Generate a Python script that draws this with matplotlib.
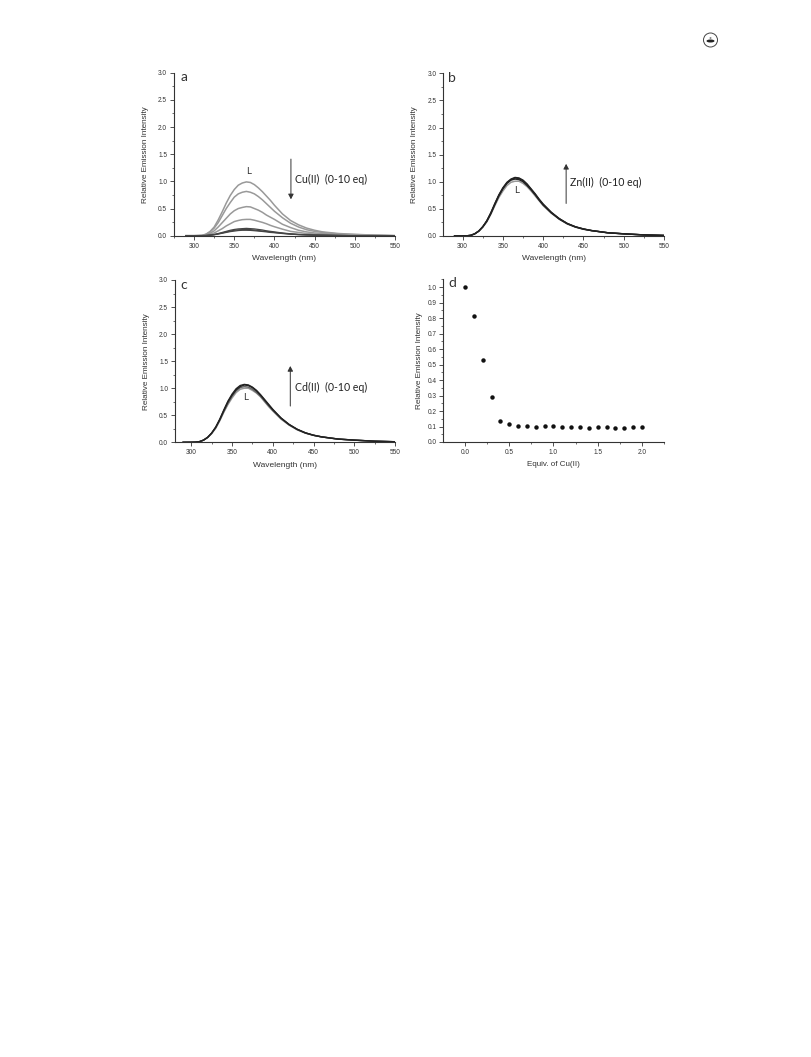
#!/usr/bin/env python3
"""Emission titration panels a-d, redrawn from the printed page."""

import matplotlib
matplotlib.use("Agg")
import matplotlib.pyplot as plt
from matplotlib.patches import Ellipse
from matplotlib.ticker import MultipleLocator

plt.rcParams["font.family"] = ["Liberation Sans", "DejaVu Sans"]

W, H = 812, 1057

# ---------------------------------------------------------------------------
# Data
# ---------------------------------------------------------------------------

wl = [290, 300, 305, 310, 315, 320, 325, 330, 335, 340, 345, 350, 355, 360, 365,
      370, 375, 380, 385, 390, 395, 400, 410, 420, 430, 440, 450, 460, 480, 500, 525, 550]

# panel a: Cu(II), grey curves from the top one (L) downwards
cu_0 = [0, 0, .002, .006, .03, .08, .16, .29, .44, .60, .74, .85, .93, .97, .99,
        .98, .94, .88, .81, .73, .65, .56, .40, .28, .20, .14, .10, .07, .04, .025, .01, 0]
cu_1 = [0, 0, .002, .005, .025, .07, .14, .24, .37, .50, .61, .71, .77, .80, .815,
        .80, .77, .72, .66, .59, .52, .45, .33, .23, .16, .11, .08, .06, .03, .02, .01, 0]
cu_2 = [0, 0, .001, .004, .018, .045, .09, .16, .24, .32, .40, .46, .50, .52, .535,
        .53, .50, .47, .43, .38, .34, .30, .21, .15, .10, .07, .05, .04, .02, .01, .005, 0]
cu_3 = [0, 0, .001, .002, .010, .025, .05, .09, .13, .18, .22, .26, .28, .295, .30,
        .30, .285, .265, .245, .22, .19, .165, .12, .08, .06, .04, .03, .02, .01, .005, 0, 0]
cu_4 = [0, 0, 0, .001, .004, .011, .022, .04, .06, .08, .10, .115, .125, .13, .135,
        .13, .125, .115, .105, .09, .08, .07, .05, .035, .025, .018, .012, .01, .005, 0, 0, 0]
cu_5 = [0, 0, 0, .001, .004, .010, .020, .035, .05, .07, .085, .10, .108, .112, .115,
        .112, .105, .095, .085, .08, .07, .06, .045, .03, .02, .015, .01, .008, .004, 0, 0, 0]
cu_6 = [0, 0, 0, .001, .003, .009, .017, .03, .045, .06, .075, .085, .095, .10, .10,
        .098, .092, .085, .078, .07, .06, .055, .04, .028, .02, .014, .01, .007, .003, 0, 0, 0]

# panel b: Zn(II), L at the bottom of the bundle
zn_0 = [0, .001, .003, .012, .04, .09, .16, .26, .40, .56, .71, .83, .93, .99, 1.01,
        1.01, .97, .91, .83, .74, .65, .56, .42, .31, .22, .165, .125, .10, .06, .04, .02, .01]
zn_1 = [0, .001, .003, .012, .04, .09, .17, .27, .41, .58, .74, .87, .97, 1.03, 1.05,
        1.04, 1.00, .93, .85, .76, .66, .57, .43, .31, .225, .165, .125, .10, .06, .04, .02, .01]
zn_2 = [0, .001, .003, .012, .04, .09, .17, .28, .42, .59, .75, .88, .98, 1.04, 1.07,
        1.06, 1.02, .95, .86, .77, .67, .58, .43, .32, .23, .17, .13, .10, .06, .04, .02, .01]
zn_3 = [0, .001, .003, .012, .04, .09, .17, .28, .43, .60, .76, .89, .99, 1.05, 1.08,
        1.07, 1.03, .96, .87, .78, .68, .59, .44, .32, .23, .17, .13, .10, .06, .04, .02, .01]

# panel c: Cd(II)
cd_0 = [0, .001, .003, .012, .04, .09, .16, .26, .40, .56, .70, .82, .92, .98, 1.00,
        1.00, .96, .91, .84, .75, .66, .58, .43, .32, .23, .17, .13, .10, .06, .04, .02, .01]
cd_1 = [0, .001, .003, .012, .04, .09, .17, .27, .41, .57, .72, .85, .95, 1.01, 1.03,
        1.02, .98, .92, .85, .76, .67, .59, .44, .32, .235, .17, .13, .10, .06, .04, .02, .01]
cd_2 = [0, .001, .003, .012, .04, .09, .17, .28, .42, .59, .75, .87, .97, 1.03, 1.06,
        1.05, 1.01, .95, .87, .78, .69, .60, .45, .33, .24, .175, .13, .10, .06, .04, .02, .01]
cd_3 = [0, .001, .003, .012, .04, .09, .17, .28, .43, .60, .76, .89, .99, 1.05, 1.07,
        1.06, 1.02, .96, .88, .79, .70, .61, .45, .33, .24, .175, .13, .10, .06, .04, .02, .01]

# panel d: quenching by Cu(II)
equiv = [0.0, 0.1, 0.2, 0.3, 0.4, 0.5, 0.6, 0.7, 0.8, 0.9, 1.0,
         1.1, 1.2, 1.3, 1.4, 1.5, 1.6, 1.7, 1.8, 1.9, 2.0]
rel_int = [1.0, 0.81, 0.53, 0.29, 0.135, 0.113, 0.102, 0.105, 0.097, 0.102, 0.102,
           0.098, 0.097, 0.10, 0.092, 0.096, 0.095, 0.09, 0.092, 0.095, 0.095]


# ---------------------------------------------------------------------------
# Helpers
# ---------------------------------------------------------------------------

def make_axes(fig, left, right, top, bottom):
    # box given in page pixels, y counted from the top
    ax = fig.add_axes([left / W, 1 - bottom / H, (right - left) / W, (bottom - top) / H])
    ax.spines["top"].set_visible(False)
    ax.spines["right"].set_visible(False)
    for side in ("left", "bottom"):
        ax.spines[side].set_linewidth(0.8)
        ax.spines[side].set_color("#333333")
    ax.tick_params(which="major", length=3, width=0.6, labelsize=4.7, pad=2,
                   color="#333333", labelcolor="#333333")
    ax.tick_params(which="minor", length=1.7, width=0.5, color="#333333")
    ax.patch.set_alpha(0)
    return ax


def spectrum_axes(fig, box, xmin, xlabel_y):
    ax = make_axes(fig, *box)
    ax.set_xlim(xmin, 550)
    ax.set_ylim(0, 3.0)
    ax.xaxis.set_major_locator(MultipleLocator(50))
    ax.xaxis.set_minor_locator(MultipleLocator(25))
    ax.yaxis.set_major_locator(MultipleLocator(0.5))
    ax.yaxis.set_minor_locator(MultipleLocator(0.25))
    ax.set_xlabel("Wavelength (nm)", fontsize=6, color="#333333")
    ax.set_ylabel("Relative Emission Intensity", fontsize=5.9, color="#333333")
    ax.xaxis.set_label_coords(0.5, xlabel_y)
    ax.yaxis.set_label_coords(-0.113, 0.5)
    return ax


def note(ax, letter, letter_xy, label, label_xy, arrow_x, arrow_from, arrow_to, l_xy):
    ax.text(*letter_xy, letter, family="Lato", fontsize=10, color="#333333", ha="left", va="center")
    ax.text(*label_xy, label, family="Lato", fontsize=7.6, color="#222222", ha="left", va="center")
    ax.text(*l_xy, "L", family="Lato", fontsize=7, color="#333333", ha="center", va="center")
    ax.annotate("", xy=(arrow_x, arrow_to), xytext=(arrow_x, arrow_from),
                arrowprops=dict(arrowstyle="-|>,head_width=0.16,head_length=0.3",
                                lw=0.7, color="#333333", shrinkA=0, shrinkB=0))


# ---------------------------------------------------------------------------
# Figure
# ---------------------------------------------------------------------------

def main():
    fig = plt.figure(figsize=(W / 100, H / 100), dpi=100)

    # a
    ax = spectrum_axes(fig, (174, 395, 72.7, 235.7), 275, -0.116)
    for curve in (cu_0, cu_1, cu_2, cu_3):
        ax.plot(wl, curve, color="#999999", lw=1.1)
    for curve in (cu_4, cu_5, cu_6):
        ax.plot(wl, curve, color="#444444", lw=0.9)
    note(ax, "a", (283, 2.92), "Cu(II)  (0-10 eq)", (425, 1.04), 420.5, 1.41, 0.67, (368, 1.18))

    # b
    ax = spectrum_axes(fig, (443.3, 664, 73.3, 236), 276, -0.116)
    ax.plot(wl, zn_0, color="#999999", lw=1.1)
    for curve in (zn_1, zn_2, zn_3):
        ax.plot(wl, curve, color="#222222", lw=1.0)
    note(ax, "b", (282, 2.92), "Zn(II)  (0-10 eq)", (433, 0.98), 428.5, 0.60, 1.33, (367, 0.83))

    # c
    ax = spectrum_axes(fig, (175, 395, 280, 442.3), 280, -0.124)
    ax.plot(wl, cd_0, color="#999999", lw=1.1)
    ax.plot(wl, cd_1, color="#666666", lw=1.0)
    for curve in (cd_2, cd_3):
        ax.plot(wl, curve, color="#222222", lw=1.0)
    note(ax, "c", (286, 2.90), "Cd(II)  (0-10 eq)", (427.5, 1.01), 421.5, 0.67, 1.41, (367, 0.83))

    # d
    ax = make_axes(fig, 443.3, 664, 279.3, 442)
    ax.set_xlim(-0.245, 2.25)
    ax.set_ylim(0, 1.05)
    ax.xaxis.set_major_locator(MultipleLocator(0.5))
    ax.xaxis.set_minor_locator(MultipleLocator(0.25))
    ax.yaxis.set_major_locator(MultipleLocator(0.1))
    ax.yaxis.set_minor_locator(MultipleLocator(0.05))
    ax.plot(equiv, rel_int, "o", color="#111111", ms=3.2, mew=0)
    ax.set_xlabel("Equiv. of Cu(II)", fontsize=5.8, color="#333333")
    ax.set_ylabel("Relative Emission Intensity", fontsize=5.9, color="#333333")
    ax.xaxis.set_label_coords(0.5, -0.115)
    ax.yaxis.set_label_coords(-0.09, 0.5)
    ax.text(-0.19, 1.025, "d", family="Lato", fontsize=10, color="#333333", ha="left", va="center")

    # publisher lamp logo in the page corner
    page = fig.add_axes([0, 0, 1, 1])
    page.set_xlim(0, W)
    page.set_ylim(H, 0)
    page.axis("off")
    page.add_patch(Ellipse((710.5, 40), 14, 14, fill=False, ec="#444444", lw=0.7))
    page.add_patch(Ellipse((710.5, 41), 8, 3, fc="#222222", ec="none"))
    page.add_patch(Ellipse((710.5, 38), 2, 2, fc="#888888", ec="none"))

    fig.savefig("out.png", dpi=100)


if __name__ == "__main__":
    main()
